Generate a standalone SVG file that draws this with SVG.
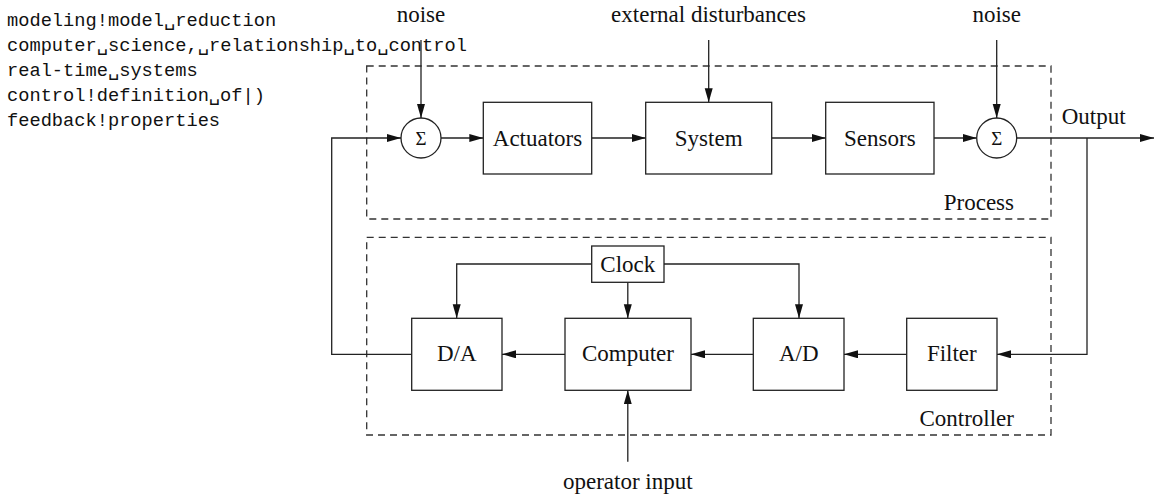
<svg xmlns="http://www.w3.org/2000/svg" width="1154" height="496" viewBox="0 0 1154 496">
<style>
.bx{fill:#fff;stroke:#222;stroke-width:1.3}
.dash{fill:none;stroke:#333;stroke-width:1.3;stroke-dasharray:7 5}
.ln{fill:none;stroke:#222;stroke-width:1.3}
.ar{marker-end:url(#ah)}
.t{font-family:"Liberation Serif","DejaVu Serif",serif;font-size:23px;fill:#111}
.c{text-anchor:middle}
.e{text-anchor:end}
.sg{font-family:"Liberation Serif","DejaVu Serif",serif;font-size:19px;fill:#111;text-anchor:middle}
.m{font-family:"Liberation Mono","DejaVu Sans Mono",monospace;font-size:18.7px;fill:#111}
</style>
<defs>
<marker id="ah" markerUnits="userSpaceOnUse" markerWidth="15" markerHeight="9" refX="14" refY="4" orient="auto">
<path d="M0,0 L14,4 L0,8 z" fill="#111"/>
</marker>
</defs>
<rect width="1154" height="496" fill="#fff"/>
<g id="index-text">
<text class="m" x="7" y="26">modeling!model␣reduction</text>
<text class="m" x="7" y="51">computer␣science,␣relationship␣to␣control</text>
<text class="m" x="7" y="76">real-time␣systems</text>
<text class="m" x="7" y="101">control!definition␣of|)</text>
<text class="m" x="7" y="126">feedback!properties</text>
</g>
<g id="process">
<rect class="dash" x="366.7" y="66" width="684.3" height="153"/>
<text class="t e" x="1014" y="210">Process</text>
</g>
<g id="controller">
<rect class="dash" x="366.7" y="237.3" width="684.3" height="197.7"/>
<text class="t e" x="1014" y="426">Controller</text>
</g>
<g id="connectors">
<polyline class="ln ar" points="411.7,354.3 331.7,354.3 331.7,138 401,138"/>
<line class="ln ar" x1="421" y1="40" x2="421" y2="118"/>
<line class="ln ar" x1="708.7" y1="40" x2="708.7" y2="102.3"/>
<line class="ln ar" x1="996.7" y1="40" x2="996.7" y2="118"/>
<line class="ln ar" x1="441" y1="138" x2="483.3" y2="138"/>
<line class="ln ar" x1="591.7" y1="138" x2="645.7" y2="138"/>
<line class="ln ar" x1="771.7" y1="138" x2="825.7" y2="138"/>
<line class="ln ar" x1="934" y1="138" x2="976.7" y2="138"/>
<line class="ln ar" x1="1016.7" y1="138" x2="1154" y2="138"/>
<polyline class="ln ar" points="1087,138 1087,354.3 997,354.3"/>
<line class="ln ar" x1="906.7" y1="354.3" x2="844" y2="354.3"/>
<line class="ln ar" x1="753.3" y1="354.3" x2="691" y2="354.3"/>
<line class="ln ar" x1="565" y1="354.3" x2="502" y2="354.3"/>
<polyline class="ln ar" points="591.7,264 456.7,264 456.7,318.3"/>
<polyline class="ln ar" points="664,264 799,264 799,318.3"/>
<line class="ln ar" x1="627.8" y1="282.3" x2="627.8" y2="318.3"/>
<line class="ln ar" x1="627.8" y1="461.7" x2="627.8" y2="390.3"/>
</g>
<g id="labels">
<text class="t c" x="421" y="22">noise</text>
<text class="t c" x="708.5" y="22">external disturbances</text>
<text class="t c" x="996.7" y="22">noise</text>
<text class="t" x="1061.7" y="124">Output</text>
<text class="t c" x="627.8" y="489">operator input</text>
</g>
<g id="sum1">
<circle class="bx" cx="421" cy="138" r="20"/>
<text class="sg" x="421" y="145">Σ</text>
</g>
<g id="actuators">
<rect class="bx" x="483.3" y="102.3" width="108.4" height="71.7"/>
<text class="t c" x="537.5" y="145.5">Actuators</text>
</g>
<g id="system">
<rect class="bx" x="645.7" y="102.3" width="126" height="71.7"/>
<text class="t c" x="708.7" y="145.5">System</text>
</g>
<g id="sensors">
<rect class="bx" x="825.7" y="102.3" width="108.3" height="71.7"/>
<text class="t c" x="879.8" y="145.5">Sensors</text>
</g>
<g id="sum2">
<circle class="bx" cx="996.7" cy="138" r="20"/>
<text class="sg" x="996.7" y="145">Σ</text>
</g>
<g id="clock">
<rect class="bx" x="591.7" y="246" width="72.3" height="36.3"/>
<text class="t c" x="627.8" y="271.7">Clock</text>
</g>
<g id="da">
<rect class="bx" x="411.7" y="318.3" width="90.3" height="72"/>
<text class="t c" x="456.8" y="361">D/A</text>
</g>
<g id="computer">
<rect class="bx" x="565" y="318.3" width="126" height="72"/>
<text class="t c" x="628" y="361">Computer</text>
</g>
<g id="ad">
<rect class="bx" x="753.3" y="318.3" width="90.7" height="72"/>
<text class="t c" x="798.7" y="361">A/D</text>
</g>
<g id="filter">
<rect class="bx" x="906.7" y="318.3" width="90.3" height="72"/>
<text class="t c" x="951.8" y="361">Filter</text>
</g>
</svg>
